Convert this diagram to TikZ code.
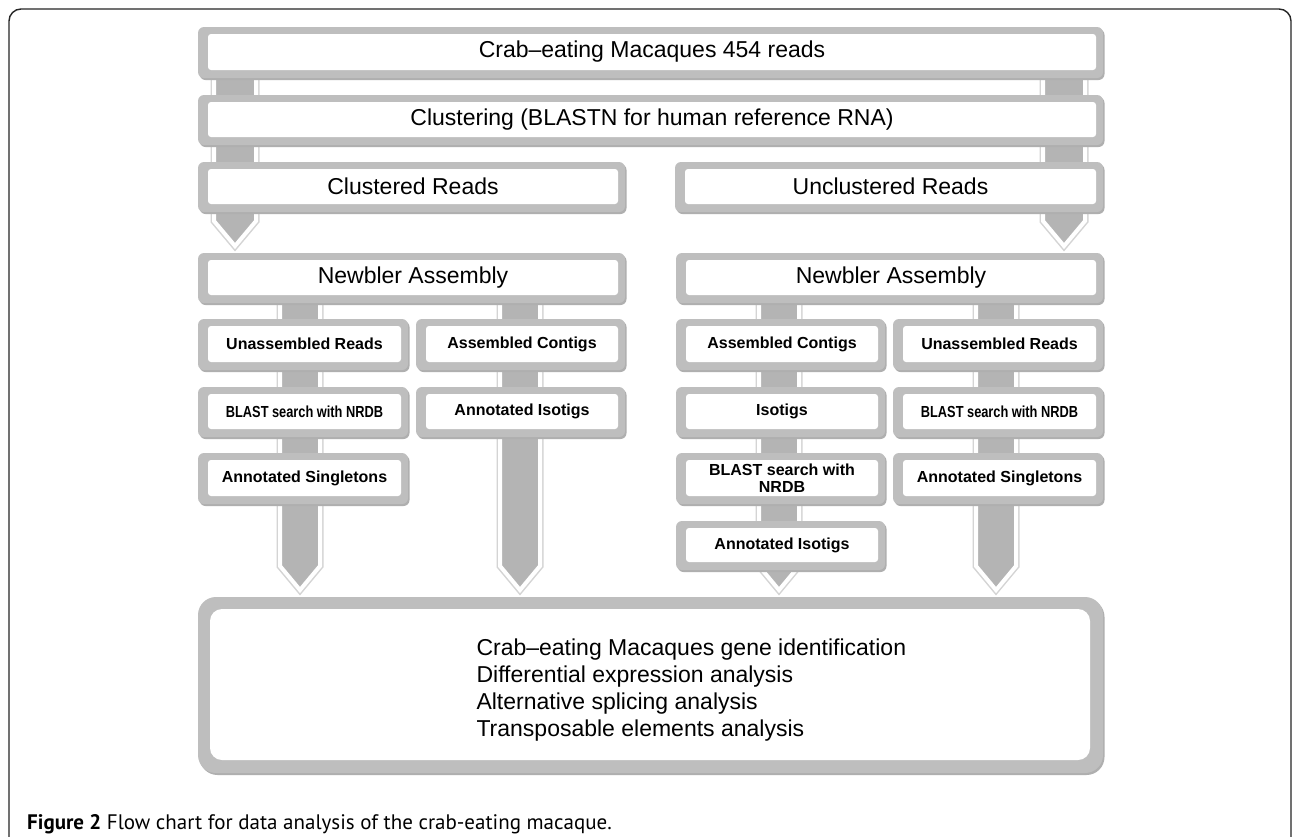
\documentclass[tikz,border=0pt]{standalone}
\usepackage{fontspec}
\setmainfont{Liberation Sans}
\newfontfamily\capfont{PT Sans}
\usetikzlibrary{calc}
\definecolor{boxgray}{RGB}{190,190,190}
\definecolor{bardark}{RGB}{180,180,180}
\definecolor{barline}{RGB}{212,212,212}
\definecolor{shadowc}{RGB}{175,175,175}
\tikzset{
  inbox/.style={fill=white, rounded corners=3, inner sep=0pt, align=center, text=black},
  bigtxt/.style={font=\fontsize{23}{26}\selectfont},
  smalltxt/.style={font=\bfseries\fontsize{16}{19}\selectfont},
  barbody/.style={fill=bardark, draw=white, line width=4, line join=miter},
  barhalo/.style={draw=barline, line width=7, line join=miter},
  framec/.style={draw=black!85, line width=1.4, rounded corners=12},
}
% #1 extra style, #2 name, #3 x1, #4 y1, #5 x2, #6 y2, #7 text
\newcommand\gbox[7][]{%
  \fill[shadowc, rounded corners=6] (#3+1.5,#4+2) rectangle (#5+1.5,#6+2);
  \fill[boxgray, rounded corners=6] (#3,#4) rectangle (#5,#6);
  \node[inbox,#1, minimum width={#5-#3-17}, minimum height={#6-#4-15}] (#2) at ({(#3+#5)/2+1.5},{(#4+#6)/2-0.5}) {#7};
}
% #1 cx, #2 ytop, #3 ytip, #4 half width
\newcommand\gbar[4]{%
  \path[barhalo] (#1-#4,#2) -- (#1-#4,#3-#4-4) -- (#1,#3) -- (#1+#4,#3-#4-4) -- (#1+#4,#2);
  \path[barbody] (#1-#4,#2) -- (#1-#4,#3-#4-4) -- (#1,#3) -- (#1+#4,#3-#4-4) -- (#1+#4,#2) -- cycle;
}
\begin{document}
\begin{tikzpicture}[x=1pt,y=-1pt]
\useasboundingbox (0,0) rectangle (1292,836);
\fill[white] (0,0) rectangle (1292,836);
\draw[framec] (9,900) -- (9,9) -- (1291,9) -- (1291,900);
% bars (connectors)
\gbar{235}{50}{246}{21}
\gbar{1064}{50}{246}{21}
\gbar{300}{290}{590}{20}
\gbar{520}{290}{590}{20}
\gbar{779}{290}{590}{20}
\gbar{996}{290}{590}{20}
% boxes
\gbox[bigtxt]{reads}{198}{27}{1103}{78}{Crab–eating Macaques 454 reads}
\gbox[bigtxt]{clust}{198}{95}{1103}{145}{Clustering (BLASTN for human reference RNA)}
\gbox[bigtxt]{clr}{198}{162}{625}{212}{Clustered Reads}
\gbox[bigtxt]{uclr}{675}{162}{1103}{212}{Unclustered Reads}
\gbox[bigtxt]{newl}{198}{253}{625}{303}{Newbler Assembly}
\gbox[bigtxt]{newr}{676}{253}{1103}{303}{Newbler Assembly}
\gbox[smalltxt]{l1}{198}{319}{408}{370}{Unassembled Reads}
\gbox[smalltxt]{l2}{416}{319}{625}{370}{Assembled Contigs}
\gbox[smalltxt]{r1}{676}{319}{885}{370}{Assembled Contigs}
\gbox[smalltxt]{r2}{893}{319}{1103}{370}{Unassembled Reads}
\gbox[smalltxt]{l1b}{198}{387}{408}{437}{\scalebox{0.8}[1]{BLAST search with NRDB}}
\gbox[smalltxt]{l2b}{416}{387}{625}{437}{Annotated Isotigs}
\gbox[smalltxt]{r1b}{676}{387}{885}{437}{Isotigs}
\gbox[smalltxt]{r2b}{893}{387}{1103}{437}{\scalebox{0.8}[1]{BLAST search with NRDB}}
\gbox[smalltxt]{l1c}{198}{453}{408}{504}{Annotated Singletons}
\gbox[smalltxt,font=\bfseries\fontsize{16}{17}\selectfont]{r1c}{676}{453}{885}{504}{BLAST search with\\NRDB}
\gbox[smalltxt]{r2c}{893}{453}{1103}{504}{Annotated Singletons}
\gbox[smalltxt]{r1d}{676}{521}{885}{570}{Annotated Isotigs}
% bottom box
\fill[shadowc, rounded corners=18] (199.5,599) rectangle (1104.5,775);
\fill[boxgray, rounded corners=18] (198,597) rectangle (1103,773);
\node[inbox, rounded corners=12, minimum width=880, minimum height=151] (res) at (650,684.5) {};
\node[anchor=west, align=left, font=\fontsize{23}{27}\selectfont] (restxt) at (473,690)
  {Crab–eating Macaques gene identification\\Differential expression analysis\\Alternative splicing analysis\\Transposable elements analysis};
% caption
\node[anchor=base west, inner sep=0pt, font=\capfont\fontsize{21}{24}\selectfont] (cap) at (27,829)
  {\textbf{Figure 2} Flow chart for data analysis of the crab-eating macaque.};
\end{tikzpicture}
\end{document}
